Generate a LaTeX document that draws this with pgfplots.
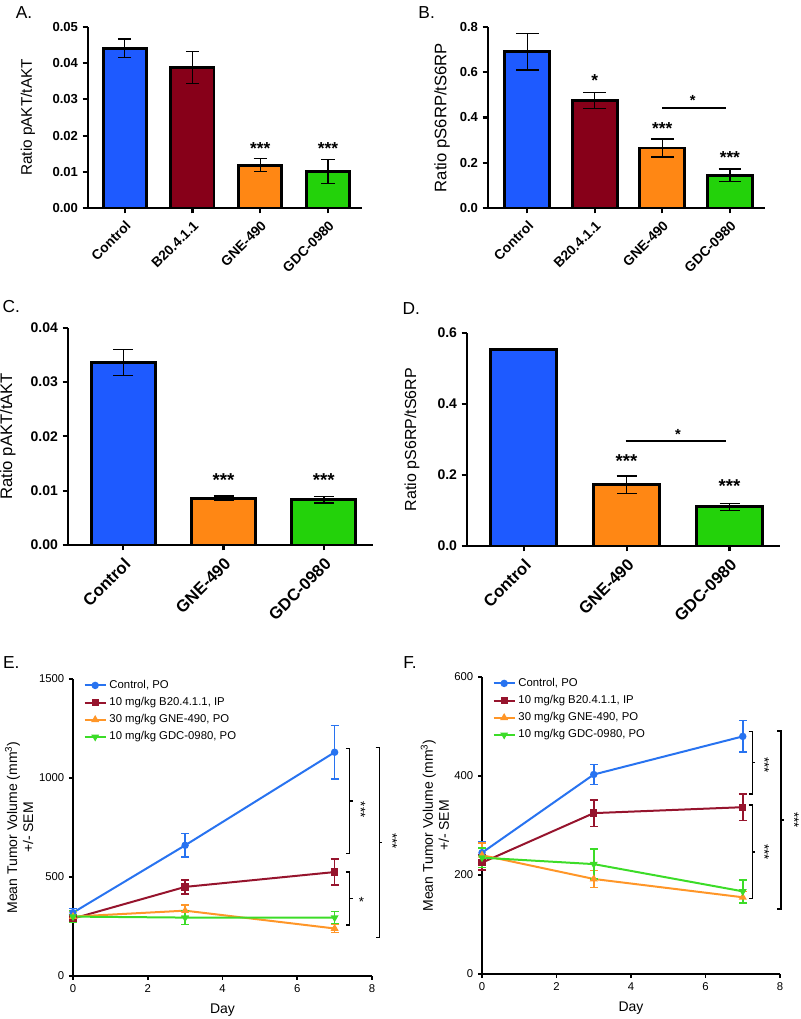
\documentclass[border=0pt]{standalone}
\usepackage{fontspec}
\setmainfont{Liberation Sans}
\usepackage{pgfplots}
\pgfplotsset{compat=1.18}

\definecolor{cblue}{RGB}{30,90,255}
\definecolor{cred}{RGB}{135,0,25}
\definecolor{corange}{RGB}{255,135,20}
\definecolor{cgreen}{RGB}{35,210,10}
\definecolor{lblue}{RGB}{40,115,240}
\definecolor{lred}{RGB}{150,20,45}
\definecolor{lorange}{RGB}{255,150,40}
\definecolor{lgreen}{RGB}{60,220,40}

\newcommand{\fs}[1]{\fontsize{#1}{#1}\selectfont}

\pgfplotsset{
  barax/.style={
    scale only axis, anchor=south west, clip=false,
    axis x line*=bottom, axis y line*=left,
    axis line style={line width=1.7pt},
    tick style={black, line width=1.6pt},
    major tick length=4pt, tick align=outside,
    ymin=0, scaled y ticks=false,
    /pgf/number format/assume math mode=true,
    /pgf/number format/fixed, /pgf/number format/fixed zerofill,
  },
  mybar/.style 2 args={
    ybar, bar shift=0pt, draw=black, line width=2.2pt, fill=#1,
    /pgfplots/error bars/y dir=both,
    /pgfplots/error bars/y explicit,
    /pgfplots/error bars/error bar style={black, line width=1pt},
    /pgfplots/error bars/error mark options={rotate=90, black, line width=1pt, mark size=#2},
  },
  lineax/.style={
    scale only axis, anchor=south west, clip=false,
    axis x line*=bottom, axis y line*=left,
    axis line style={line width=1.3pt},
    tick style={black, line width=1.3pt},
    major tick length=3pt, tick align=outside,
    xmin=0, xmax=8, ymin=0, xtick={0,2,4,6,8},
    scaled y ticks=false,
    tick label style={font=\fs{8.5}},
    /pgf/number format/assume math mode=true,
    /pgf/number format/1000 sep={},
    xlabel={Day},
    xlabel style={font=\fs{10.5}, at={(axis description cs:0.5,-0.115)}, anchor=center},
    ylabel style={align=center, font=\fontsize{10.5}{12}\selectfont, anchor=center},
    legend cell align=left,
    legend style={draw=none, fill=none, font=\fs{8.5}, row sep=1.2pt, inner sep=1pt},
    legend image code/.code={\draw[mark repeat=2, mark phase=2] plot coordinates {(0cm,0cm) (0.28cm,0cm) (0.56cm,0cm)};},
  },
  myline/.style={
    color=#1, line width=1.5pt, mark size=2pt,
    /pgfplots/error bars/y dir=both,
    /pgfplots/error bars/y explicit,
    /pgfplots/error bars/error bar style={line width=1.2pt},
    /pgfplots/error bars/error mark options={rotate=90, line width=1.2pt, mark size=3pt},
  },
}

\begin{document}
\begin{tikzpicture}
\useasboundingbox (0,0) rectangle (600pt,764.25pt);

% panel labels
\node[font=\fs{13}] at (18pt,755pt) {A.};
\node[font=\fs{13}] at (320pt,755pt) {B.};
\node[font=\fs{13}] at (8.5pt,534pt) {C.};
\node[font=\fs{13}] at (308.5pt,532.5pt) {D.};
\node[font=\fs{13}] at (8.5pt,267pt) {E.};
\node[font=\fs{13}] at (307.5pt,267pt) {F.};

% ---------- A ----------
\begin{axis}[barax, at={(66pt,608.25pt)}, width=205.5pt, height=135.75pt,
  xmin=-0.54, xmax=3.5, ymax=0.05, bar width=32.3pt,
  ytick={0,0.01,0.02,0.03,0.04,0.05},
  /pgf/number format/precision=2,
  yticklabel style={font=\bfseries\fs{9.8}},
  xtick={0,1,2,3}, xticklabels={Control,B20.4.1.1,GNE-490,GDC-0980},
  xticklabel style={rotate=45, anchor=north east, font=\bfseries\fs{10.3}},
  ylabel={Ratio pAKT/tAKT},
  ylabel style={font=\fs{11.5}, at={(axis description cs:-0.219,0.5)}, anchor=center}]
\addplot[mybar={cblue}{5pt}] coordinates {(0,0.0441) +- (0,0.0026)};
\addplot[mybar={cred}{5pt}] coordinates {(1,0.0388) +- (0,0.0044)};
\addplot[mybar={corange}{5pt}] coordinates {(2,0.0118) +- (0,0.0018)};
\addplot[mybar={cgreen}{5pt}] coordinates {(3,0.0101) +- (0,0.0033)};
\node[font=\bfseries\fs{13}] at (axis cs:2,0.0165) {***};
\node[font=\bfseries\fs{13}] at (axis cs:3,0.0165) {***};
\end{axis}

% ---------- B ----------
\begin{axis}[barax, at={(366pt,608.25pt)}, width=207.75pt, height=135.75pt,
  xmin=-0.58, xmax=3.52, ymax=0.8, bar width=33.8pt,
  ytick={0,0.2,0.4,0.6,0.8},
  /pgf/number format/precision=1,
  yticklabel style={font=\bfseries\fs{9.8}},
  xtick={0,1,2,3}, xticklabels={Control,B20.4.1.1,GNE-490,GDC-0980},
  xticklabel style={rotate=45, anchor=north east, font=\bfseries\fs{10.3}},
  ylabel={Ratio pS6RP/tS6RP},
  ylabel style={font=\fs{12.5}, at={(axis description cs:-0.166,0.5)}, anchor=center}]
\addplot[mybar={cblue}{8.5pt}] coordinates {(0,0.69) +- (0,0.08)};
\addplot[mybar={cred}{8.5pt}] coordinates {(1,0.475) +- (0,0.035)};
\addplot[mybar={corange}{8.5pt}] coordinates {(2,0.265) +- (0,0.04)};
\addplot[mybar={cgreen}{8.5pt}] coordinates {(3,0.145) +- (0,0.027)};
\node[font=\bfseries\fs{13}] at (axis cs:1,0.565) {*};
\node[font=\bfseries\fs{13}] at (axis cs:2,0.35) {***};
\node[font=\bfseries\fs{13}] at (axis cs:3,0.222) {***};
\draw[line width=1.3pt] (axis cs:2,0.442) -- (axis cs:2.95,0.442);
\node[font=\bfseries\fs{11}] at (axis cs:2.45,0.475) {*};
\end{axis}

% ---------- C ----------
\begin{axis}[barax, at={(51pt,355.5pt)}, width=228.75pt, height=163pt,
  xmin=-0.55, xmax=2.49, ymax=0.04, bar width=48pt,
  ytick={0,0.01,0.02,0.03,0.04},
  /pgf/number format/precision=2,
  yticklabel style={font=\bfseries\fs{10.5}},
  xtick={0,1,2}, xticklabels={Control,GNE-490,GDC-0980},
  xticklabel style={rotate=45, anchor=north east, font=\bfseries\fs{12.5}},
  ylabel={Ratio pAKT/tAKT},
  ylabel style={font=\fs{12.5}, at={(axis description cs:-0.197,0.5)}, anchor=center}]
\addplot[mybar={cblue}{7.5pt}] coordinates {(0,0.0336) +- (0,0.0024)};
\addplot[mybar={corange}{7.5pt}] coordinates {(1,0.0086) +- (0,0.0004)};
\addplot[mybar={cgreen}{7.5pt}] coordinates {(2,0.0083) +- (0,0.0006)};
\node[font=\bfseries\fs{14}] at (axis cs:1,0.0120) {***};
\node[font=\bfseries\fs{14}] at (axis cs:2,0.0120) {***};
\end{axis}

% ---------- D ----------
\begin{axis}[barax, at={(350.25pt,354.75pt)}, width=234.75pt, height=159.75pt,
  xmin=-0.55, xmax=2.49, ymax=0.6, bar width=49.5pt,
  ytick={0,0.2,0.4,0.6},
  /pgf/number format/precision=1,
  yticklabel style={font=\bfseries\fs{10.5}},
  xtick={0,1,2}, xticklabels={Control,GNE-490,GDC-0980},
  xticklabel style={rotate=45, anchor=north east, font=\bfseries\fs{12.5}},
  ylabel={Ratio pS6RP/tS6RP},
  ylabel style={font=\fs{12}, at={(axis description cs:-0.176,0.5)}, anchor=center}]
\addplot[mybar={cblue}{7.5pt}] coordinates {(0,0.553) +- (0,0.003)};
\addplot[mybar={corange}{7.5pt}] coordinates {(1,0.172) +- (0,0.025)};
\addplot[mybar={cgreen}{7.5pt}] coordinates {(2,0.110) +- (0,0.010)};
\node[font=\bfseries\fs{14}] at (axis cs:1,0.24) {***};
\node[font=\bfseries\fs{14}] at (axis cs:2,0.168) {***};
\draw[line width=1.3pt] (axis cs:0.99,0.296) -- (axis cs:1.97,0.296);
\node[font=\bfseries\fs{11}] at (axis cs:1.5,0.315) {*};
\end{axis}

% ---------- E ----------
\begin{axis}[lineax, at={(54.75pt,32.25pt)}, width=224.25pt, height=222.75pt,
  ymax=1500, ytick={0,500,1000,1500},
  ylabel={Mean Tumor Volume (mm\textsuperscript{3})\\+/- SEM},
  ylabel style={at={(axis description cs:-0.18,0.5)}},
  legend style={at={(axis description cs:0.03,1.01)}, anchor=north west}]
\addplot[myline=lblue, mark=*] coordinates {(0,320) +- (0,20) (3,660) +- (0,60) (7,1130) +- (0,135)};
\addplot[myline=lred, mark=square*] coordinates {(0,290) +- (0,20) (3,450) +- (0,35) (7,525) +- (0,65)};
\addplot[myline=lorange, mark=triangle*] coordinates {(0,300) +- (0,25) (3,330) +- (0,30) (7,240) +- (0,20)};
\addplot[myline=lgreen, mark=triangle*, mark options={rotate=180}] coordinates {(0,300) +- (0,30) (3,295) +- (0,35) (7,295) +- (0,30)};
\legend{{Control, PO},{10 mg/kg B20.4.1.1, IP},{30 mg/kg GNE-490, PO},{10 mg/kg GDC-0980, PO}}
\draw[line width=1.1pt] (axis cs:7.3,1150) -- (axis cs:7.4,1150) -- (axis cs:7.4,620) -- (axis cs:7.3,620);
\draw[line width=1.1pt] (axis cs:7.4,885) -- (axis cs:7.48,885);
\node[rotate=-90, font=\fs{10}] at (axis cs:7.7,840) {***};
\draw[line width=1.1pt] (axis cs:7.3,525) -- (axis cs:7.4,525) -- (axis cs:7.4,258) -- (axis cs:7.3,258);
\draw[line width=1.1pt] (axis cs:7.4,392) -- (axis cs:7.48,392);
\node[font=\fs{10}] at (axis cs:7.72,375) {*};
\draw[line width=1.1pt] (axis cs:8.1,1155) -- (axis cs:8.2,1155) -- (axis cs:8.2,195) -- (axis cs:8.1,195);
\draw[line width=1.1pt] (axis cs:8.2,675) -- (axis cs:8.28,675);
\node[rotate=-90, font=\fs{10}] at (axis cs:8.55,680) {***};
\end{axis}

% ---------- F ----------
\begin{axis}[lineax, at={(361.5pt,33.75pt)}, width=223.5pt, height=222.75pt,
  ymax=600, ytick={0,200,400,600},
  ylabel={Mean Tumor Volume (mm\textsuperscript{3})\\+/- SEM},
  ylabel style={at={(axis description cs:-0.158,0.5)}},
  legend style={at={(axis description cs:0.03,1.01)}, anchor=north west}]
\addplot[myline=lblue, mark=*] coordinates {(0,245) +- (0,22) (3,403) +- (0,20) (7,480) +- (0,32)};
\addplot[myline=lred, mark=square*] coordinates {(0,225) +- (0,15) (3,325) +- (0,27) (7,337) +- (0,27)};
\addplot[myline=lorange, mark=triangle*] coordinates {(0,240) +- (0,25) (3,192) +- (0,17) (7,155) +- (0,12)};
\addplot[myline=lgreen, mark=triangle*, mark options={rotate=180}] coordinates {(0,235) +- (0,20) (3,222) +- (0,30) (7,167) +- (0,23)};
\legend{{Control, PO},{10 mg/kg B20.4.1.1, IP},{30 mg/kg GNE-490, PO},{10 mg/kg GDC-0980, PO}}
\draw[line width=1.1pt] (axis cs:7.16,490) -- (axis cs:7.26,490) -- (axis cs:7.26,364) -- (axis cs:7.16,364);
\draw[line width=1.1pt] (axis cs:7.26,427) -- (axis cs:7.34,427);
\node[rotate=-90, font=\fs{10}] at (axis cs:7.58,422) {***};
\draw[line width=1.1pt] (axis cs:7.16,341) -- (axis cs:7.26,341) -- (axis cs:7.26,152) -- (axis cs:7.16,152);
\draw[line width=1.1pt] (axis cs:7.26,246) -- (axis cs:7.34,246);
\node[rotate=-90, font=\fs{10}] at (axis cs:7.58,246) {***};
\draw[line width=1.1pt] (axis cs:7.93,491) -- (axis cs:8.03,491) -- (axis cs:8.03,131) -- (axis cs:7.93,131);
\draw[line width=1.1pt] (axis cs:8.03,311) -- (axis cs:8.11,311);
\node[rotate=-90, font=\fs{10}] at (axis cs:8.38,311) {***};
\end{axis}
\end{tikzpicture}
\end{document}
